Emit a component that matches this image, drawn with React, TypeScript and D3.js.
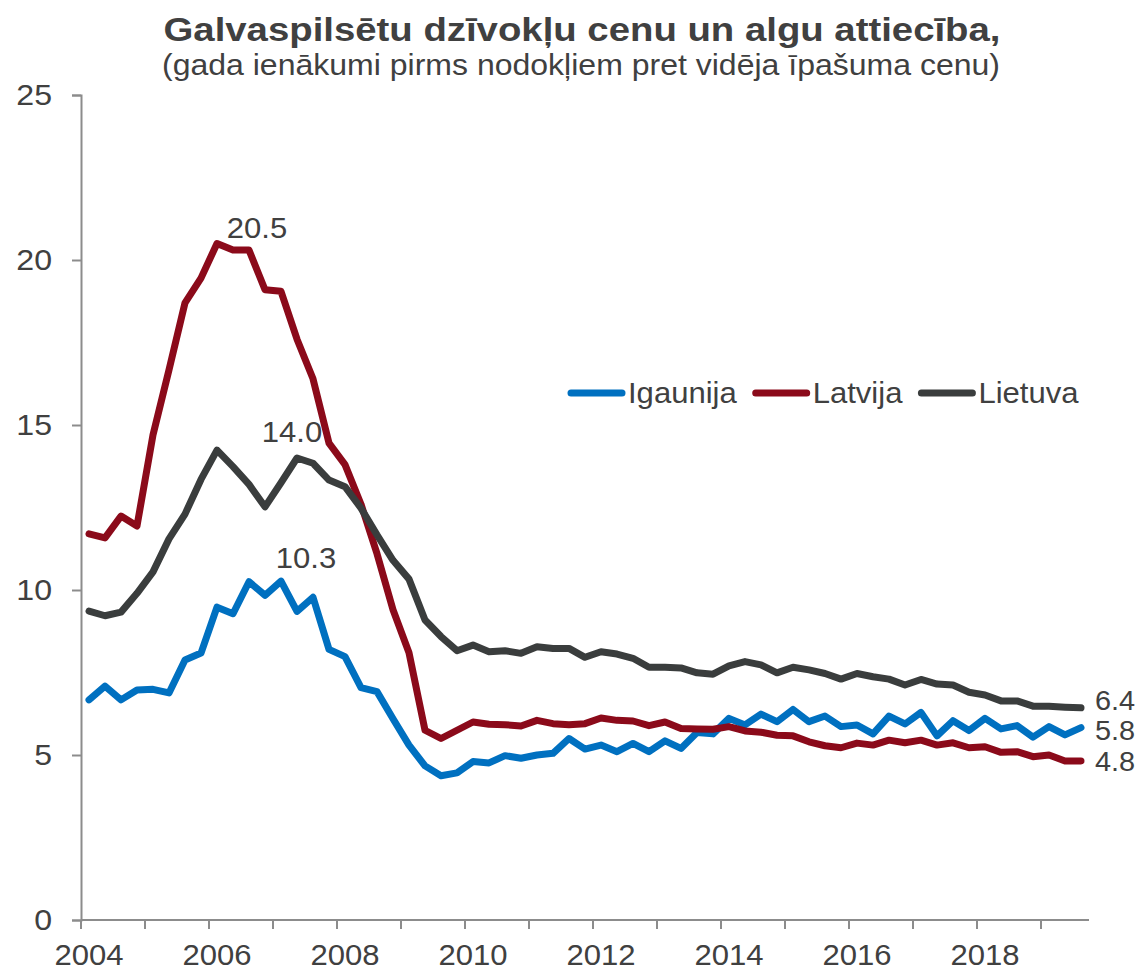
import { useRef, useEffect } from 'react';
import * as d3 from 'd3';

const WIDTH = 1143;
const HEIGHT = 972;
const FONT = '"Liberation Sans", Arial, sans-serif';
const TEXT_COLOR = '#404040';
const AXIS_COLOR = '#8c8c8c';
const STRETCH = 1.07; // source text is a bit wider than Liberation Sans

// quarterly, 2004Q1 .. 2019Q3
const START_YEAR = 2004;
const N_QUARTERS = 63;
const quarters = d3.range(N_QUARTERS).map(i => `${START_YEAR + Math.floor(i / 4)}Q${(i % 4) + 1}`);

const igaunija = [
  6.67, 7.09, 6.67, 6.97, 6.99, 6.88, 7.88, 8.09, 9.48, 9.28,
  10.25, 9.84, 10.27, 9.35, 9.78, 8.2, 7.98, 7.04, 6.92, 6.1,
  5.3, 4.67, 4.37, 4.46, 4.8, 4.76, 4.98, 4.9, 5.0, 5.05,
  5.5, 5.18, 5.3, 5.1, 5.35, 5.1, 5.43, 5.2, 5.68, 5.64,
  6.11, 5.91, 6.24, 6.01, 6.38, 6.01, 6.18, 5.86, 5.91, 5.64,
  6.18, 5.94, 6.29, 5.58, 6.04, 5.74, 6.11, 5.79, 5.89, 5.54,
  5.86, 5.61, 5.83,
];

const latvija = [
  11.7, 11.58, 12.24, 11.94, 14.7, 16.67, 18.7, 19.45, 20.5, 20.3,
  20.3, 19.1, 19.05, 17.6, 16.4, 14.45, 13.8, 12.6, 11.1, 9.4,
  8.1, 5.75, 5.5, 5.75, 6.0, 5.93, 5.92, 5.88, 6.05, 5.95,
  5.92, 5.95, 6.12, 6.05, 6.03, 5.89, 6.0, 5.8, 5.79, 5.78,
  5.86, 5.73, 5.69, 5.6, 5.58, 5.4, 5.28, 5.22, 5.36, 5.3,
  5.45, 5.37, 5.45, 5.3, 5.37, 5.22, 5.25, 5.08, 5.1, 4.95,
  5.0, 4.82, 4.82,
];

const lietuva = [
  9.36, 9.22, 9.33, 9.9, 10.55, 11.55, 12.3, 13.35, 14.24, 13.74,
  13.2, 12.52, 13.25, 14.0, 13.84, 13.33, 13.13, 12.48, 11.67, 10.9,
  10.33, 9.09, 8.59, 8.16, 8.33, 8.13, 8.16, 8.08, 8.28, 8.23,
  8.23, 7.96, 8.13, 8.06, 7.93, 7.66, 7.66, 7.64, 7.49, 7.45,
  7.7, 7.83, 7.73, 7.49, 7.66, 7.58, 7.47, 7.3, 7.47, 7.37,
  7.3, 7.12, 7.29, 7.15, 7.12, 6.9, 6.82, 6.64, 6.64, 6.48,
  6.48, 6.45, 6.43,
];

const seriesNames = ['Igaunija', 'Latvija', 'Lietuva'];
const seriesColors = ['#0070c0', '#8b0a1a', '#3a3d3d'];
const seriesValues = [igaunija, latvija, lietuva];

const yTicks = [0, 5, 10, 15, 20, 25];

const TITLE = 'Galvaspilsētu dzīvokļu cenu un algu attiecība,';
const SUBTITLE = '(gada ienākumi pirms nodokļiem pret vidēja īpašuma cenu)';

// value labels: series index, point index, text offsets
const valueLabels = [
  { s: 1, i: 8, dx: 40, dy: -6, anchor: 'middle', base: 'auto', size: 29 },
  { s: 2, i: 13, dx: -5, dy: -16, anchor: 'middle', base: 'auto', size: 29 },
  { s: 0, i: 12, dx: 25, dy: -13, anchor: 'middle', base: 'auto', size: 29 },
  { s: 2, i: 62, dx: 14, dy: -7, anchor: 'start', base: 'central', size: 27 },
  { s: 0, i: 62, dx: 14, dy: 3, anchor: 'start', base: 'central', size: 27 },
  { s: 1, i: 62, dx: 14, dy: 1, anchor: 'start', base: 'central', size: 27 },
];

// widen text a touch so it matches the source's glyph widths
function stretch(sel: d3.Selection<any, any, any, any>) {
  sel.each(function () {
    const node = this as SVGTextElement;
    const w = node.getComputedTextLength();
    d3.select(node).attr('textLength', w * STRETCH).attr('lengthAdjust', 'spacingAndGlyphs');
  });
}

export default function App() {
  const svgRef = useRef<SVGSVGElement>(null);

  useEffect(() => {
    document.body.style.margin = '0';
    const svg = d3.select(svgRef.current);
    svg.selectAll('*').remove();

    const x = d3.scaleBand<number>().domain(d3.range(N_QUARTERS)).range([81, 1089]).padding(0);
    const cx = (i: number) => (x(i) as number) + x.bandwidth() / 2;
    const y = d3.scaleLinear().domain([0, 25]).range([920, 95]);

    // Title
    svg.append('text')
      .attr('x', 582).attr('y', 41)
      .attr('text-anchor', 'middle')
      .attr('font-family', FONT).attr('font-weight', 'bold').attr('font-size', 33)
      .attr('fill', TEXT_COLOR)
      .attr('textLength', 837).attr('lengthAdjust', 'spacingAndGlyphs')
      .text(TITLE);
    svg.append('text')
      .attr('x', 581).attr('y', 75)
      .attr('text-anchor', 'middle')
      .attr('font-family', FONT).attr('font-size', 29)
      .attr('fill', TEXT_COLOR)
      .attr('textLength', 838).attr('lengthAdjust', 'spacingAndGlyphs')
      .text(SUBTITLE);

    // Y axis
    const yAxis = svg.append('g')
      .attr('transform', `translate(${x.range()[0]},0)`)
      .call(d3.axisLeft(y).tickValues(yTicks).tickSize(9).tickPadding(20).tickSizeOuter(9));
    yAxis.select('.domain').attr('stroke', AXIS_COLOR).attr('stroke-width', 2);
    yAxis.selectAll('.tick line').attr('stroke', AXIS_COLOR).attr('stroke-width', 2);
    yAxis.selectAll('.tick text')
      .attr('font-family', FONT).attr('font-size', 30).attr('fill', TEXT_COLOR);
    yAxis.selectAll('.tick text').call(stretch);

    // X axis
    const gx = svg.append('g');
    gx.append('line')
      .attr('x1', x.range()[0]).attr('x2', x.range()[1])
      .attr('y1', y(0)).attr('y2', y(0))
      .attr('stroke', AXIS_COLOR).attr('stroke-width', 2);
    const yearStarts = d3.range(N_QUARTERS).filter(i => i % 4 === 0);
    gx.selectAll('.xtick')
      .data(yearStarts)
      .join('line')
      .attr('class', 'xtick')
      .attr('x1', d => x(d) as number).attr('x2', d => x(d) as number)
      .attr('y1', y(0)).attr('y2', y(0) + 9)
      .attr('stroke', AXIS_COLOR).attr('stroke-width', 2);
    gx.selectAll('.xlabel')
      .data(d3.range(N_QUARTERS).filter(i => i % 8 === 0))
      .join('text')
      .attr('class', 'xlabel')
      .attr('x', d => cx(d))
      .attr('y', y(0) + 45)
      .attr('text-anchor', 'middle')
      .attr('font-family', FONT).attr('font-size', 29).attr('fill', TEXT_COLOR)
      .text(d => quarters[d].slice(0, 4))
      .call(stretch);

    // Lines
    const line = d3.line<number>()
      .x((_, i) => cx(i))
      .y(d => y(d));

    svg.append('g')
      .selectAll('path')
      .data(seriesValues)
      .join('path')
      .attr('d', d => line(d))
      .attr('fill', 'none')
      .attr('stroke', (_, i) => seriesColors[i])
      .attr('stroke-width', 7)
      .attr('stroke-linejoin', 'round')
      .attr('stroke-linecap', 'round');

    // Value labels
    svg.append('g')
      .selectAll('text')
      .data(valueLabels)
      .join('text')
      .attr('x', d => cx(d.i) + d.dx)
      .attr('y', d => y(seriesValues[d.s][d.i]) + d.dy)
      .attr('text-anchor', d => d.anchor)
      .attr('dominant-baseline', d => d.base)
      .attr('font-family', FONT).attr('font-size', d => d.size).attr('fill', TEXT_COLOR)
      .text(d => seriesValues[d.s][d.i].toFixed(1))
      .call(stretch);

    // Legend
    const legend = svg.append('g').attr('transform', 'translate(568,393)');
    let offset = 0;
    seriesNames.forEach((name, i) => {
      const item = legend.append('g').attr('transform', `translate(${offset},0)`);
      item.append('line')
        .attr('x1', 3).attr('x2', 54).attr('y1', 0).attr('y2', 0)
        .attr('stroke', seriesColors[i]).attr('stroke-width', 7)
        .attr('stroke-linecap', 'round');
      const t = item.append('text')
        .attr('x', 60).attr('y', 0)
        .attr('dominant-baseline', 'central')
        .attr('font-family', FONT).attr('font-size', 29).attr('fill', TEXT_COLOR)
        .text(name);
      const w = (t.node() as SVGTextElement).getComputedTextLength() * STRETCH;
      t.attr('textLength', w).attr('lengthAdjust', 'spacingAndGlyphs');
      offset += 60 + w + 16;
    });
  }, []);

  return <svg ref={svgRef} width={WIDTH} height={HEIGHT} style={{ display: 'block', background: '#fff' }} />;
}
